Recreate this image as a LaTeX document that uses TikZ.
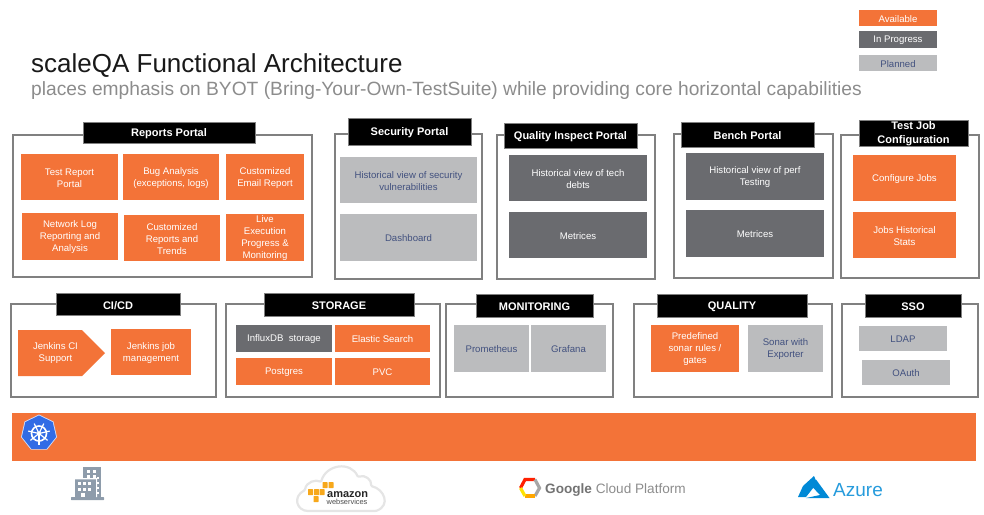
\documentclass[tikz,border=0pt]{standalone}
\usepackage{fontspec}
\setmainfont{Liberation Sans}
\usetikzlibrary{shapes.geometric,shapes.arrows}
\definecolor{avail}{HTML}{F37338}
\definecolor{prog}{HTML}{6A6B6F}
\definecolor{plan}{HTML}{BBBCBE}
\definecolor{navy}{HTML}{42517F}
\definecolor{frm}{HTML}{808080}
\definecolor{bld}{HTML}{8E9CAB}
\definecolor{kubeblue}{HTML}{326CE5}
\definecolor{awsor}{HTML}{F7A81B}
\definecolor{azb}{HTML}{0089D6}
\tikzset{
  x=1pt,y=-1pt,
  boxbase/.style={inner sep=0pt,outer sep=0pt,align=center,font=\fontsize{9.6}{12}\selectfont},
  availbox/.style={boxbase,fill=avail,text=white},
  progbox/.style={boxbase,fill=prog,text=white},
  planbox/.style={boxbase,fill=plan,text=navy},
  frame/.style={draw=frm,line width=2.2pt,fill=white,inner sep=0pt},
  headbox/.style={fill=black,text=white,inner sep=0pt,align=center,draw=frm,line width=0.4pt,font=\bfseries\fontsize{11}{14}\selectfont,execute at begin node={\rule{0pt}{10.5pt}}},
}
% name, style, x0, y0, x1, y1, text
\newcommand{\bx}[7]{%
  \pgfmathsetmacro{\bxw}{#5-#3}\pgfmathsetmacro{\bxh}{#6-#4}%
  \pgfmathsetmacro{\bxx}{(#3+#5)/2}\pgfmathsetmacro{\bxy}{(#4+#6)/2}%
  \node[#2,minimum width=\bxw pt,minimum height=\bxh pt] (#1) at (\bxx,\bxy) {\rule{0pt}{8.6pt}#7};}
\begin{document}
\begin{tikzpicture}
\useasboundingbox (0,0) rectangle (984,514);
% legend
\bx{legA}{availbox}{859}{10}{937}{26}{Available}
\bx{legP}{progbox}{859}{31}{937}{48}{In Progress}
\bx{legN}{planbox}{859}{55}{937}{71}{Planned}
% titles
\node[anchor=base west,inner sep=0pt,font=\fontsize{26}{30}\selectfont,text=black!90] (title) at (31,72) {scaleQA Functional Architecture};
\node[anchor=base west,inner sep=0pt,font=\fontsize{19.2}{22}\selectfont,text=black!45] (subtitle) at (31,95) {places emphasis on BYOT (Bring-Your-Own-TestSuite) while providing core horizontal capabilities};
% Reports
\bx{fReports}{frame}{13}{135}{312}{277}{}
\bx{hReports}{headbox}{83}{122}{255}{143}{Reports Portal}
\bx{r1}{availbox}{21}{154}{118}{200}{Test Report\\Portal}
\bx{r2}{availbox}{123}{154}{219}{200}{Bug Analysis\\(exceptions, logs)}
\bx{r3}{availbox}{226}{154}{304}{200}{Customized\\Email Report}
\bx{r4}{availbox}{22}{213}{118}{260}{Network Log\\Reporting and\\Analysis}
\bx{r5}{availbox}{124}{215}{220}{261}{Customized\\Reports and\\Trends}
\bx{r6}{availbox}{226}{214}{304}{261}{Live\\Execution\\Progress \&\\Monitoring}
% Security
\bx{fSec}{frame}{335}{134}{482}{279}{}
\bx{hSec}{headbox}{348}{118}{471}{145}{Security Portal}
\bx{s1}{planbox}{340}{157}{477}{203}{Historical view of security\\vulnerabilities}
\bx{s2}{planbox}{340}{214}{477}{261}{Dashboard}
% Quality Inspect
\bx{fQi}{frame}{497}{135}{655}{279}{}
\bx{hQi}{headbox}{504}{123}{637}{148}{Quality Inspect Portal}
\bx{q1}{progbox}{509}{155}{647}{201}{Historical view of tech\\debts}
\bx{q2}{progbox}{509}{212}{647}{258}{Metrices}
% Bench
\bx{fBench}{frame}{674}{134}{833}{278}{}
\bx{hBench}{headbox}{681}{122}{814}{147}{Bench Portal}
\bx{b1}{progbox}{686}{153}{824}{200}{Historical view of perf\\Testing}
\bx{b2}{progbox}{686}{210}{824}{257}{Metrices}
% Test job
\bx{fJob}{frame}{841}{135}{979}{278}{}
\bx{hJob}{headbox}{859}{120}{968}{146}{Test Job\\Configuration}
\bx{j1}{availbox}{853}{155}{956}{201}{Configure Jobs}
\bx{j2}{availbox}{853}{212}{956}{258}{Jobs Historical\\Stats}
% CI/CD
\bx{fCi}{frame}{11}{304}{216}{397}{}
\bx{hCi}{headbox}{56}{293}{180}{315}{CI/CD}
\fill[avail] (18,330) -- (82,330) -- (105,353) -- (82,376) -- (18,376) -- cycle;
\node[inner sep=0pt,align=center,text=white,font=\fontsize{9.6}{12}\selectfont] (c1) at (55.5,353.5) {Jenkins CI\\Support};
\bx{c2}{availbox}{111}{329}{191}{375}{Jenkins job\\management}
% Storage
\bx{fSt}{frame}{226}{304}{440}{397}{}
\bx{hSt}{headbox}{264}{293}{414}{316}{STORAGE}
\bx{st1}{progbox}{236}{325}{332}{352}{InfluxDB\ \ storage}
\bx{st2}{availbox}{335}{325}{430}{352}{Elastic Search}
\bx{st3}{availbox}{236}{358}{332}{385}{Postgres}
\bx{st4}{availbox}{335}{358}{430}{385}{PVC}
% Monitoring
\bx{fMon}{frame}{446}{304}{613}{397}{}
\bx{hMon}{headbox}{476}{294}{593}{317}{MONITORING}
\bx{m1}{planbox}{454}{325}{529}{372}{Prometheus}
\bx{m2}{planbox}{531}{325}{606}{372}{Grafana}
% Quality
\bx{fQ}{frame}{634}{304}{832}{397}{}
\bx{hQ}{headbox}{657}{294}{807}{317}{QUALITY}
\bx{qa1}{availbox}{651}{325}{739}{372}{Predefined\\sonar rules /\\gates}
\bx{qa2}{planbox}{748}{325}{823}{372}{Sonar with\\Exporter}
% SSO
\bx{fSso}{frame}{842}{304}{978}{397}{}
\bx{hSso}{headbox}{865}{294}{961}{317}{SSO}
\bx{ss1}{planbox}{859}{326}{947}{351}{LDAP}
\bx{ss2}{planbox}{862}{360}{950}{385}{OAuth}
% Kubernetes bar
\bx{bar}{availbox}{12}{413}{976}{461}{}
\node[regular polygon,regular polygon sides=7,minimum size=37pt,fill=white!75!kubeblue,inner sep=0pt] (kubeo) at (39,433) {};
\node[regular polygon,regular polygon sides=7,minimum size=35pt,fill=kubeblue,inner sep=0pt] (kube) at (39,433) {};
\draw[white,line width=1.6pt] (39,433.5) circle (7.5);
\foreach \a in {90,141.4,192.9,244.3,295.7,347.1,38.6}
  \draw[white,line width=1.2pt] (39,433.5) -- ++(\a:11);
\fill[white] (39,433.5) circle (2);
% building
\fill[bld] (83,467) rectangle (101,497);
\fill[bld] (75,479) rectangle (96,497);
\fill[bld,rounded corners=0.5pt] (71,497) rectangle (104,500);
\fill[white] (75,478) rectangle (96,479.3) (96,478) rectangle (97,497);
\foreach \wx/\wy in {87/470,93/470,87/475,93/475,78/482,83/482,88/482,78/488,83/488,88/488}
  \fill[white] (\wx,\wy) rectangle ++(3.2,3);
\foreach \wy in {477,482,487,492}
  \fill[white] (96.5,\wy) rectangle ++(2.5,2.2);
\fill[white] (81,493) rectangle ++(4,4);
% AWS
\draw[draw=black!10,line width=2.2pt,fill=white,rounded corners=1pt]
  (309,511) .. controls (297,511) and (292,497) .. (305,490)
  .. controls (306,482) and (316,479) .. (321,482)
  .. controls (326,464) and (351,461) .. (358,477)
  .. controls (365,474) and (372,480) .. (371,486)
  .. controls (384,489) and (391,505) .. (376,511) -- cycle;
\foreach \cx/\cy in {325/485,331/485,310.5/492,316.5/492,322/492,316/499}
  \fill[awsor,rounded corners=0.5pt] (\cx-2.5,\cy-3) rectangle (\cx+2.5,\cy+3);
\node[anchor=base west,inner sep=0pt,font=\bfseries\fontsize{11}{12}\selectfont,text=black!85] (aws1) at (327,497) {amazon};
\node[anchor=base west,inner sep=0pt,font=\fontsize{7.4}{8}\selectfont,text=black!70] (aws2) at (326.5,504.5) {webservices};
% Google
\coordinate (g1) at (525,479.5);\coordinate (g2) at (535,479.5);\coordinate (g3) at (539.5,488);
\coordinate (g4) at (535,496);\coordinate (g5) at (525,496);\coordinate (g6) at (520.5,488);
\draw[line width=3.2pt,color=red!75!orange] (g6) -- (g1) -- (g2);
\draw[line width=3.2pt,color=gray!70] (g2) -- (g3) -- (g4);
\draw[line width=3.2pt,color=orange!70!yellow] (g4) -- (g5);
\draw[line width=3.2pt,color=yellow!85!orange] (g5) -- (g6);
\node[anchor=base west,inner sep=0pt,font=\fontsize{13.6}{16}\selectfont] (gcp) at (545,493) {\textcolor{black!55}{\bfseries Google} \textcolor{black!45}{Cloud Platform}};
% Azure
\fill[azb] (814,476) -- (803,486) -- (798,497) -- (806,497) -- (817,483) -- cycle;
\fill[azb] (816,479.5) -- (829.5,498) -- (806,498) -- (820,495) -- (811.5,486) -- cycle;
\node[anchor=base west,inner sep=0pt,font=\fontsize{19}{22}\selectfont,text=azb!85] (azure) at (833,496) {Azure};
\end{tikzpicture}
\end{document}
